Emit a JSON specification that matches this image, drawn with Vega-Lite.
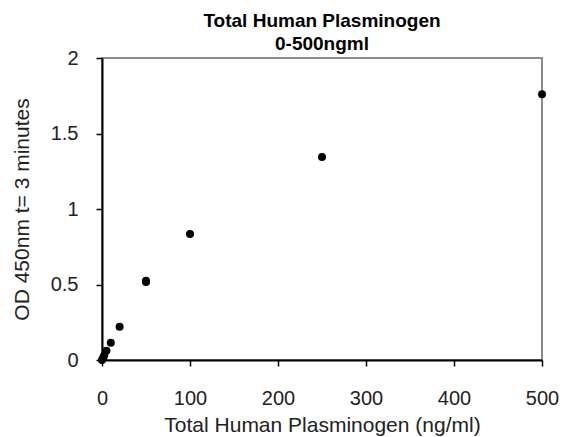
{
  "$schema": "https://vega.github.io/schema/vega-lite/v6.json",
  "width": 440,
  "height": 302,
  "autosize": {"type": "none"},
  "padding": {"left": 102, "top": 58, "right": 27, "bottom": 77},
  "background": "white",
  "title": {
    "text": ["Total Human Plasminogen", "0-500ngml"],
    "font": "Liberation Sans",
    "fontSize": 19,
    "fontWeight": "bold",
    "color": "black",
    "anchor": "middle",
    "lineHeight": 23,
    "offset": -6
  },
  "data": {
    "values": [
      {"conc": 0, "od": 0.0},
      {"conc": 1.25, "od": 0.015},
      {"conc": 2.5, "od": 0.03},
      {"conc": 5, "od": 0.062},
      {"conc": 10, "od": 0.115},
      {"conc": 20, "od": 0.22},
      {"conc": 50, "od": 0.517},
      {"conc": 50, "od": 0.525},
      {"conc": 100, "od": 0.834},
      {"conc": 250, "od": 1.344},
      {"conc": 500, "od": 1.76}
    ]
  },
  "mark": {"type": "point", "filled": true, "color": "black", "opacity": 1, "size": 64, "clip": false},
  "encoding": {
    "x": {
      "field": "conc",
      "type": "quantitative",
      "scale": {"domain": [0, 500], "nice": false, "zero": true},
      "axis": {
        "values": [0, 100, 200, 300, 400, 500],
        "title": "Total Human Plasminogen (ng/ml)",
        "titlePadding": 6,
        "labelPadding": 22
      }
    },
    "y": {
      "field": "od",
      "type": "quantitative",
      "scale": {"domain": [0, 2], "nice": false},
      "axis": {
        "values": [0, 0.5, 1, 1.5, 2],
        "format": ".1~f",
        "title": "OD 450nm t= 3 minutes",
        "titlePadding": 18,
        "labelPadding": 18
      }
    }
  },
  "config": {
    "view": {"stroke": "#8c8c8c", "strokeWidth": 2},
    "axis": {
      "grid": false,
      "labelFlush": false,
      "labelOverlap": false,
      "domainColor": "black",
      "domainWidth": 2,
      "tickColor": "black",
      "tickWidth": 1.5,
      "tickSize": 6,
      "labelFont": "Liberation Sans",
      "labelFontSize": 20,
      "labelColor": "#222222",
      "titleFont": "Liberation Sans",
      "titleFontSize": 21,
      "titleFontWeight": "normal",
      "titleColor": "#222222"
    }
  }
}
